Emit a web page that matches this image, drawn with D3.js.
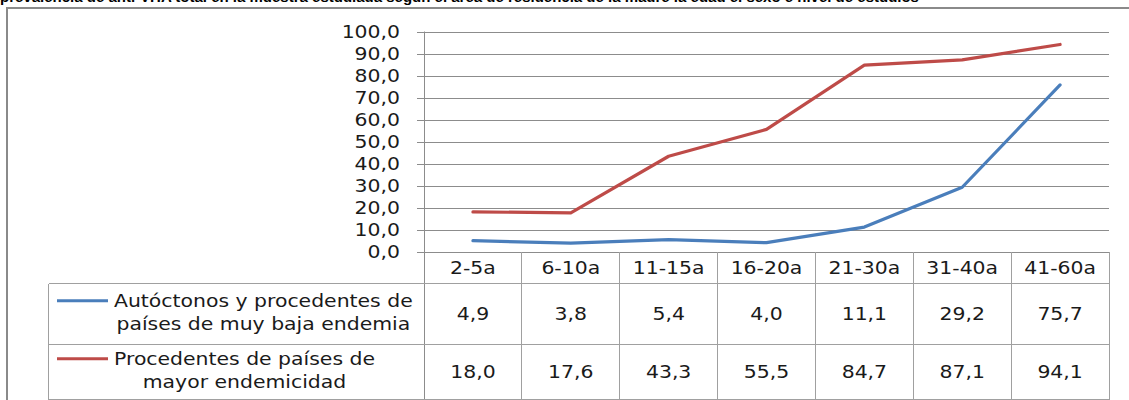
<!DOCTYPE html>
<html><head><meta charset="utf-8">
<script src="https://cdn.jsdelivr.net/npm/d3@7"></script>
<style>
html,body{margin:0;padding:0;background:#fff;}
svg{display:block;}
text{font-family:"DejaVu Sans",Verdana,sans-serif;fill:#1a1a1a;}
</style></head>
<body><svg id="chart" width="1129" height="400"></svg>
<script>
const categories = ["2-5a","6-10a","11-15a","16-20a","21-30a","31-40a","41-60a"];
const autoctonos = [4.9,3.8,5.4,4.0,11.1,29.2,75.7];
const mayorEndemicidad = [18.0,17.6,43.3,55.5,84.7,87.1,94.1];
const yTicks = [0,10,20,30,40,50,60,70,80,90,100];
const seriesLabels = [
  ["Autóctonos y procedentes de","países de muy baja endemia"],
  ["Procedentes de países de","mayor endemicidad"]
];
const titleText = "prevalencia de anti-VHA total en la muestra estudiada según el área de residencia de la madre la edad el sexo e nivel de estudios";

const colors = ["#4a7ebb","#be4b48"];
const SX = 1.2, FS = 17;
const svg = d3.select("#chart");
const locale = d3.formatLocale({decimal:",",thousands:".",grouping:[3],currency:["","€"]});
const fmt = locale.format(".1f");

const pLeft = 424, pRight = 1109, pTop = 31.5, pBottom = 251.5;
const x = d3.scaleBand().domain(categories).range([pLeft,pRight]);
const y = d3.scaleLinear().domain([0,100]).range([pBottom,pTop]);

// title (cropped at the top edge, as in the reference)
svg.append("text").attr("x",0).attr("y",2).style("font-family","'Liberation Sans',Arial,sans-serif")
  .style("font-weight","bold").style("font-size","15px").style("fill","#000").text(titleText);

// frame
svg.append("line").attr("x1",7).attr("x2",7).attr("y1",7).attr("y2",400).attr("stroke","#8a8a8a").attr("stroke-width",2);
svg.append("line").attr("x1",6).attr("x2",1129).attr("y1",8).attr("y2",8).attr("stroke","#8a8a8a").attr("stroke-width",2);

// gridlines via axis
const grid = svg.append("g").attr("transform",`translate(${pLeft},0)`)
  .call(d3.axisRight(y).tickValues(yTicks).tickSize(pRight-pLeft).tickFormat(""));
grid.select(".domain").remove();
grid.selectAll("line").attr("stroke","#8c8c8c").attr("shape-rendering","crispEdges");

// y axis
const ya = svg.append("g").attr("transform",`translate(${pLeft},0)`)
  .call(d3.axisLeft(y).tickValues(yTicks).tickSize(7).tickFormat(fmt));
ya.select(".domain").remove();
ya.selectAll("line").attr("stroke","#8c8c8c").attr("shape-rendering","crispEdges");
ya.selectAll("text").attr("x",-24/SX).attr("dy","0.36em").attr("transform",`scale(${SX},1)`)
  .style("font-size",FS+"px").style("font-family","'DejaVu Sans',Verdana,sans-serif").attr("fill","#1a1a1a");

// axis vertical line, continued through table
svg.append("line").attr("x1",pLeft+0.5).attr("x2",pLeft+0.5).attr("y1",pTop).attr("y2",400).attr("stroke","#8c8c8c");

// table
const hdrBottom = 283.5, rowSplit = 344, tblBottom = 399.5, legLeft = 48.5;
const tb = svg.append("g").attr("stroke","#a0a0a0").attr("shape-rendering","crispEdges");
categories.forEach(c=>{
  tb.append("line").attr("x1",x(c)+x.bandwidth()).attr("x2",x(c)+x.bandwidth()).attr("y1",pBottom).attr("y2",tblBottom);
});
[hdrBottom,rowSplit,tblBottom].forEach(yy=>{
  tb.append("line").attr("x1",legLeft).attr("x2",pRight).attr("y1",yy).attr("y2",yy);
});
tb.append("line").attr("x1",legLeft).attr("x2",legLeft).attr("y1",hdrBottom).attr("y2",tblBottom);

function stext(g,tx,ty,str,anchor){
  return g.append("text").attr("transform",`translate(${tx},${ty}) scale(${SX},1)`)
    .attr("text-anchor",anchor||"middle").attr("dy","0.36em").style("font-size",FS+"px").text(str);
}
const tg = svg.append("g");
categories.forEach(c=> stext(tg, x(c)+x.bandwidth()/2, (pBottom+hdrBottom)/2, c));
const rows = [[hdrBottom,rowSplit],[rowSplit,tblBottom]];
[autoctonos,mayorEndemicidad].forEach((vals,i)=>{
  const cy = (rows[i][0]+rows[i][1])/2;
  vals.forEach((v,j)=> stext(tg, x(categories[j])+x.bandwidth()/2, cy, fmt(v)));
  const l1 = cy-13, l2 = cy+10;
  tg.append("line").attr("x1",57).attr("x2",108).attr("y1",l1).attr("y2",l1)
    .attr("stroke",colors[i]).attr("stroke-width",3);
  const ts = seriesLabels[i].map((s,k)=> stext(tg,0,k?l2:l1,s));
  const w = Math.max(...ts.map(t=>t.node().getComputedTextLength()*SX));
  ts.forEach((t,k)=> t.attr("transform",`translate(${114+w/2},${k?l2:l1}) scale(${SX},1)`));
});

// lines
const line = d3.line().x((d,i)=>x(categories[i])+x.bandwidth()/2).y(d=>y(d));
[autoctonos,mayorEndemicidad].forEach((vals,i)=>{
  svg.append("path").datum(vals).attr("d",line).attr("fill","none")
    .attr("stroke",colors[i]).attr("stroke-width",3.2).attr("stroke-linejoin","round").attr("stroke-linecap","round");
});
</script></body></html>
